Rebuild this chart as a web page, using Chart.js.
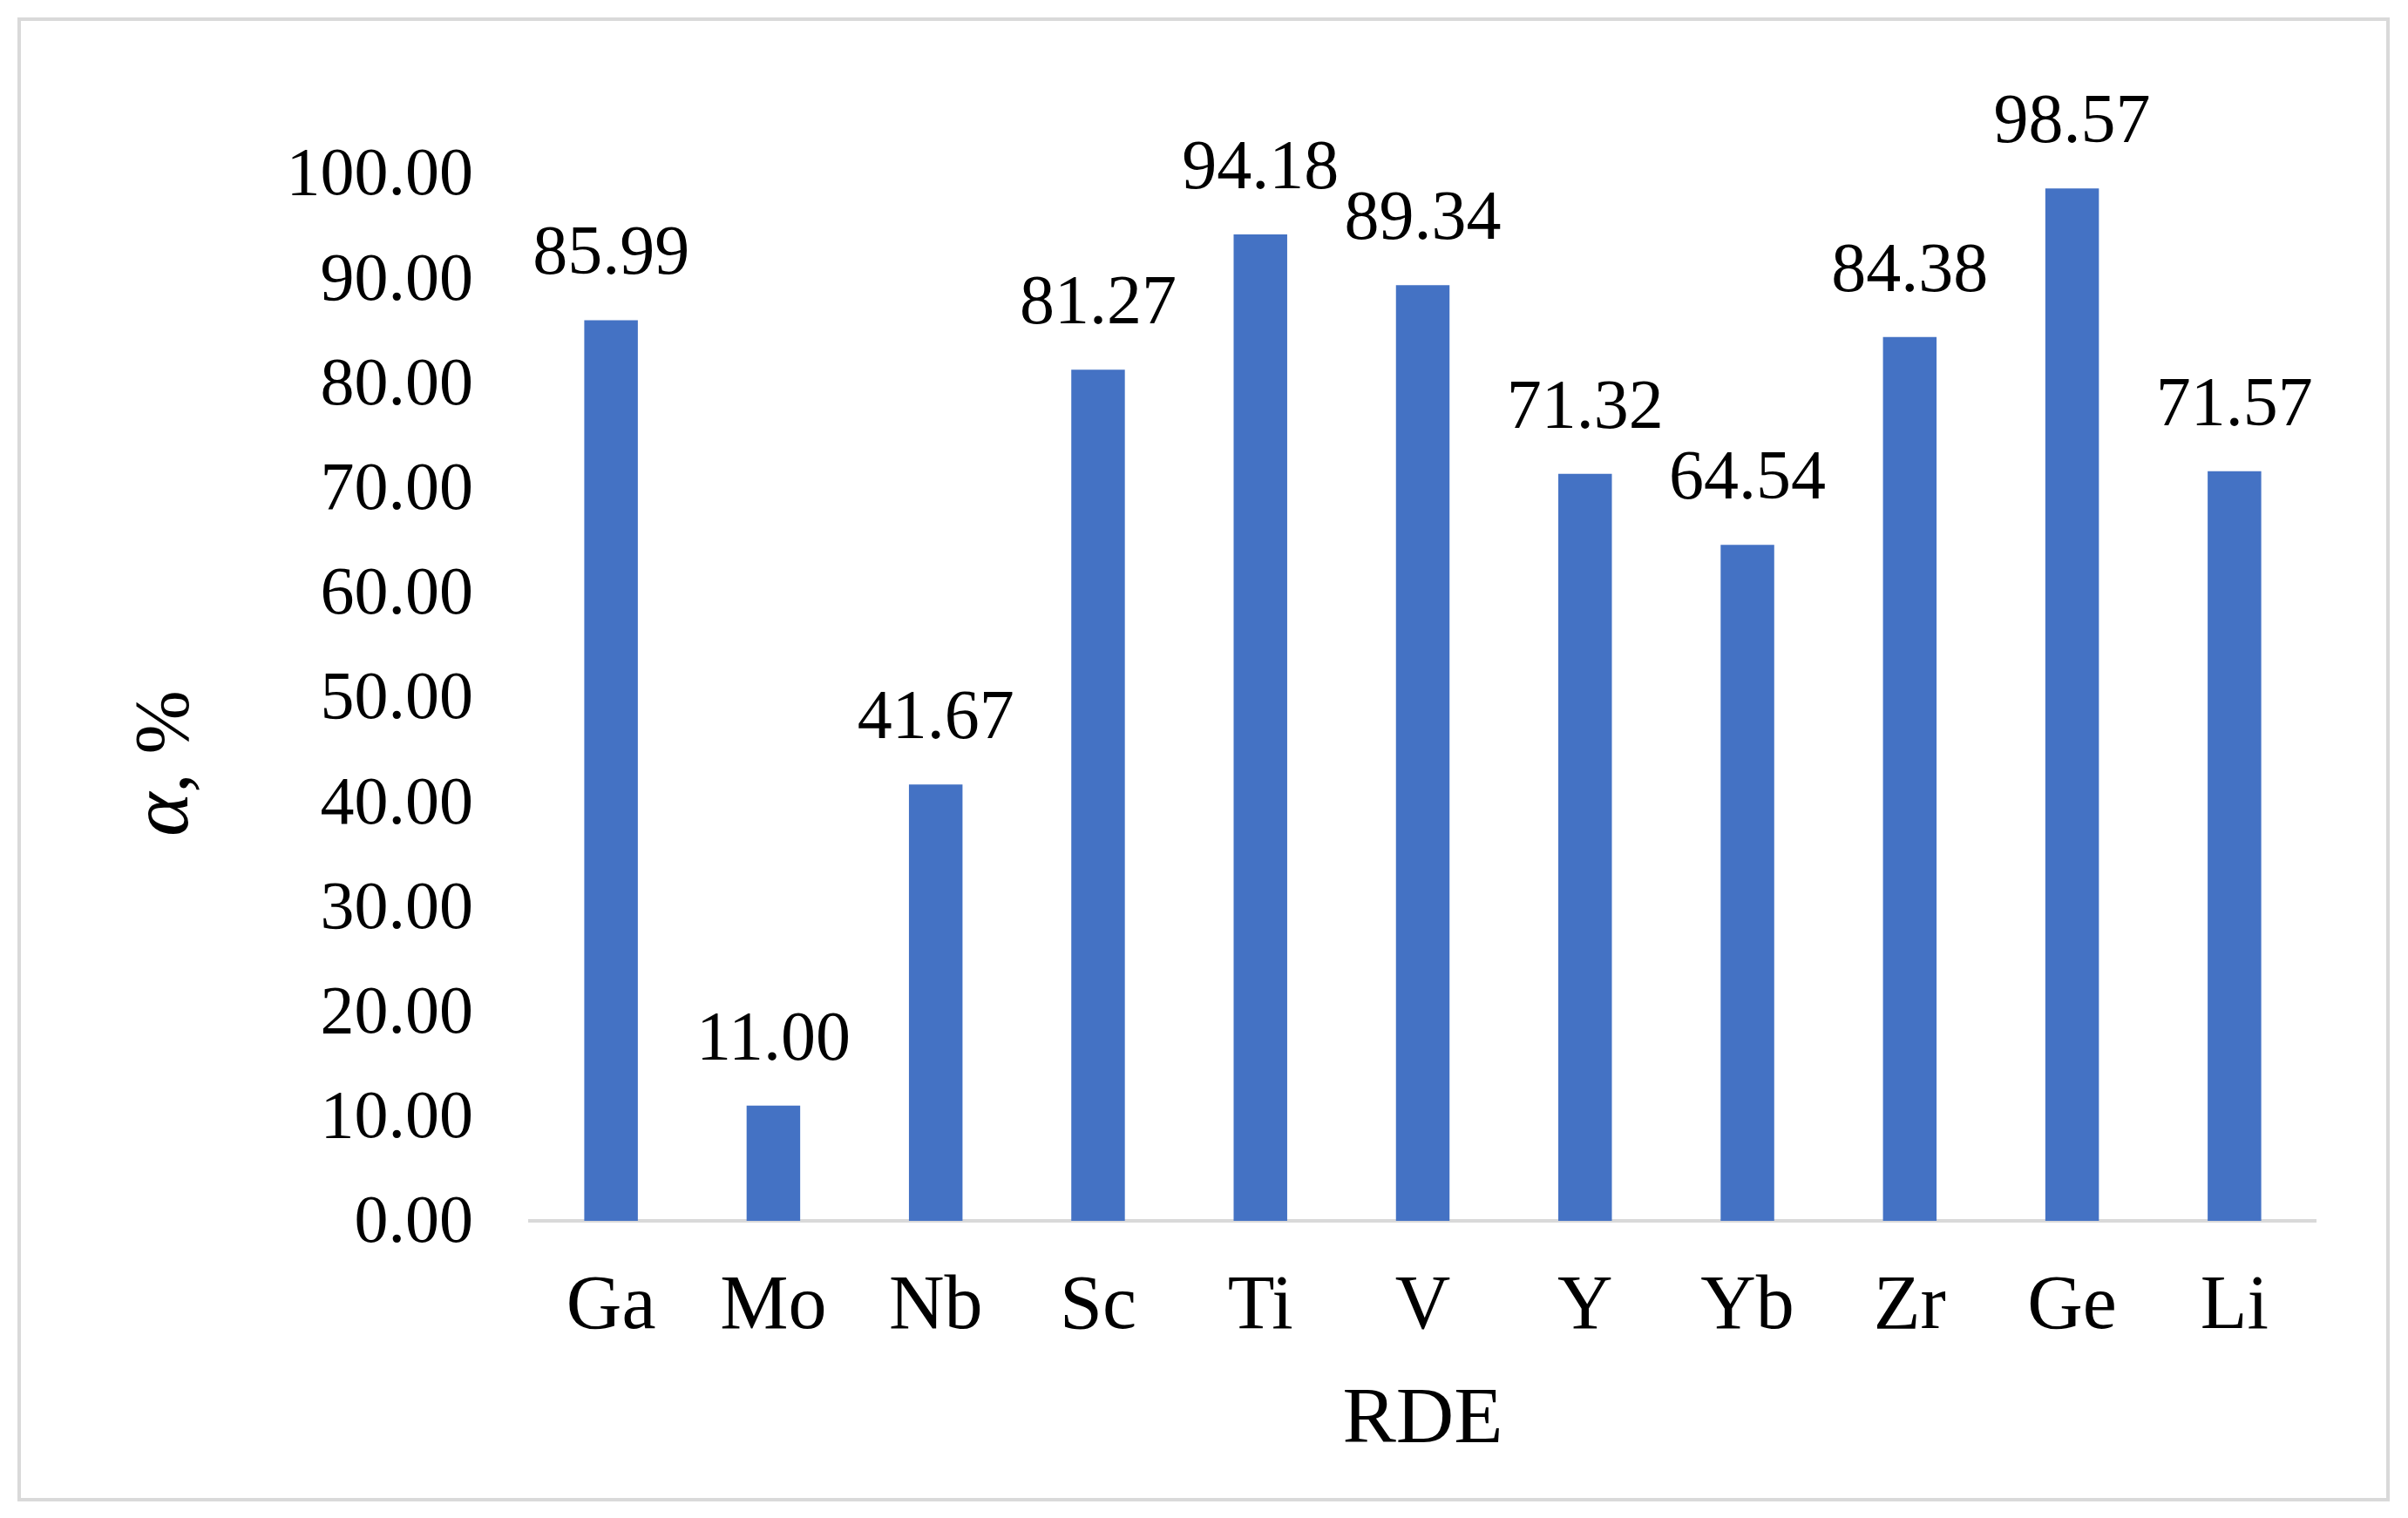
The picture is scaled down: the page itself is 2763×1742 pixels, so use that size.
<!DOCTYPE html>
<html>
<head>
<meta charset="utf-8">
<script src="https://cdn.jsdelivr.net/npm/chart.js@4.4.1/dist/chart.umd.min.js"></script>
<style>
  html, body { margin: 0; padding: 0; background: #ffffff; }
  #wrap { position: relative; width: 2763px; height: 1742px; }
  canvas { display: block; }
</style>
</head>
<body>
<div id="wrap"><canvas id="c" width="2763" height="1742"></canvas></div>
<script>
const categories = ["Ga", "Mo", "Nb", "Sc", "Ti", "V", "Y", "Yb", "Zr", "Ge", "Li"];
const values = [85.99, 11.00, 41.67, 81.27, 94.18, 89.34, 71.32, 64.54, 84.38, 98.57, 71.57];
const yTickValues = [0, 10, 20, 30, 40, 50, 60, 70, 80, 90, 100];
const yTickLabels = ["0.00", "10.00", "20.00", "30.00", "40.00", "50.00", "60.00", "70.00", "80.00", "90.00", "100.00"];
const xTitle = "RDE";
const yTitleSymbol = "α";
const yTitleRest = ", %";

const FONT = "'Liberation Serif', 'Times New Roman', serif";

const frame = {
  id: 'frame',
  beforeDraw(chart) {
    const ctx = chart.ctx;
    ctx.save();
    ctx.fillStyle = '#ffffff';
    ctx.fillRect(0, 0, chart.width, chart.height);
    ctx.strokeStyle = '#d9d9d9';
    ctx.lineWidth = 4;
    ctx.strokeRect(22, 22, 2718, 1699);
    ctx.restore();
  }
};

const valueLabels = {
  id: 'valueLabels',
  afterDatasetsDraw(chart) {
    const ctx = chart.ctx;
    const meta = chart.getDatasetMeta(0);
    ctx.save();
    ctx.font = "80px " + FONT;
    ctx.fillStyle = '#000000';
    ctx.textAlign = 'center';
    ctx.textBaseline = 'alphabetic';
    meta.data.forEach((bar, i) => {
      ctx.fillText(values[i].toFixed(2), bar.x, bar.y - 53);
    });
    ctx.restore();
  }
};

const yTitlePlugin = {
  id: 'yTitle',
  afterDraw(chart) {
    const ctx = chart.ctx;
    ctx.save();
    ctx.translate(215, 876);
    ctx.rotate(-Math.PI / 2);
    ctx.fillStyle = '#000000';
    ctx.textBaseline = 'alphabetic';
    ctx.textAlign = 'left';
    const f1 = "italic 96px " + FONT;
    const f2 = "88px " + FONT;
    ctx.font = f1;
    const w1 = ctx.measureText(yTitleSymbol).width;
    ctx.font = f2;
    const w2 = ctx.measureText(yTitleRest).width;
    const start = -(w1 + w2) / 2;
    ctx.font = f1;
    ctx.fillText(yTitleSymbol, start, 0);
    ctx.font = f2;
    ctx.fillText(yTitleRest, start + w1, 0);
    ctx.restore();
  }
};

new Chart(document.getElementById('c'), {
  type: 'bar',
  data: {
    labels: categories,
    datasets: [{
      data: values,
      backgroundColor: '#4472C4',
      borderWidth: 0,
      categoryPercentage: 1.0,
      barPercentage: 0.33
    }]
  },
  options: {
    responsive: false,
    animation: false,
    devicePixelRatio: 1,
    layout: { padding: { left: 140, top: 199, right: 106, bottom: 56 } },
    plugins: { legend: { display: false }, tooltip: { enabled: false } },
    scales: {
      x: {
        grid: { display: false, drawTicks: false },
        border: { display: true, color: '#d9d9d9', width: 4 },
        ticks: { color: '#000000', font: { family: FONT, size: 88 }, padding: 47 },
        title: { display: true, text: xTitle, color: '#000000', font: { family: FONT, size: 92 }, padding: 0 },
        afterFit(scale) { scale.height = 285; }
      },
      y: {
        min: 0, max: 100,
        grid: { display: false, drawTicks: false },
        border: { display: false },
        ticks: {
          stepSize: 10,
          color: '#000000',
          font: { family: FONT, size: 78 },
          padding: 65,
          labelOffset: 4,
          callback: (v) => { const i = yTickValues.indexOf(v); return i >= 0 ? yTickLabels[i] : ''; }
        },
        title: { display: false },
        afterFit(scale) { scale.width = 468; }
      }
    }
  },
  plugins: [frame, valueLabels, yTitlePlugin]
});
</script>
</body>
</html>
